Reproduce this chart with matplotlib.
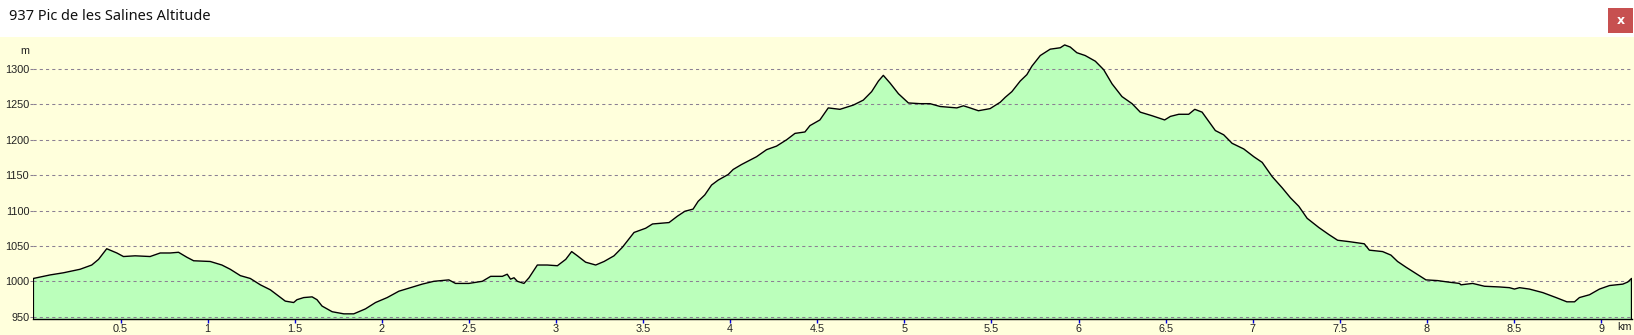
import matplotlib
matplotlib.use("Agg")
import matplotlib.pyplot as plt
from matplotlib.patches import Rectangle

title = "937 Pic de les Salines Altitude"

# distance (km) / altitude (m)
dist_km = [
    0.0, 0.096, 0.172, 0.268, 0.335, 0.374, 0.421, 0.479, 0.517, 0.584,
    0.67, 0.728, 0.785, 0.833, 0.881, 0.92, 1.015, 1.082, 1.13, 1.188,
    1.245, 1.303, 1.36, 1.408, 1.446, 1.494, 1.513, 1.552, 1.6, 1.628,
    1.657, 1.715, 1.782, 1.839, 1.906, 1.964, 2.031, 2.098, 2.165, 2.232,
    2.299, 2.385, 2.423, 2.5, 2.577, 2.625, 2.692, 2.72, 2.739, 2.759,
    2.778, 2.816, 2.845, 2.893, 2.95, 3.008, 3.056, 3.09, 3.123, 3.17,
    3.228, 3.276, 3.333, 3.381, 3.448, 3.515, 3.554, 3.649, 3.697, 3.74,
    3.787, 3.816, 3.854, 3.893, 3.931, 3.989, 4.017, 4.065, 4.151, 4.209,
    4.266, 4.324, 4.372, 4.429, 4.458, 4.515, 4.563, 4.63, 4.707, 4.764,
    4.812, 4.851, 4.879, 4.918, 4.966, 5.023, 5.09, 5.147, 5.205, 5.301,
    5.339, 5.377, 5.425, 5.492, 5.55, 5.579, 5.617, 5.665, 5.703, 5.732,
    5.78, 5.837, 5.895, 5.92, 5.952, 5.99, 6.038, 6.096, 6.144, 6.192,
    6.249, 6.307, 6.354, 6.421, 6.494, 6.527, 6.575, 6.632, 6.667, 6.709,
    6.747, 6.785, 6.833, 6.881, 6.948, 7.006, 7.054, 7.111, 7.169, 7.216,
    7.264, 7.312, 7.379, 7.437, 7.487, 7.554, 7.64, 7.669, 7.745, 7.793,
    7.831, 7.879, 7.937, 7.994, 8.061, 8.119, 8.186, 8.195, 8.262, 8.33,
    8.416, 8.473, 8.502, 8.531, 8.588, 8.665, 8.741, 8.803, 8.847, 8.875,
    8.933, 8.99, 9.048, 9.124, 9.153, 9.174,
]
alt_m = [
    1004, 1009, 1012, 1017, 1023, 1031, 1046, 1040, 1035, 1036,
    1035, 1040, 1040, 1041, 1034, 1029, 1028, 1023, 1017, 1008,
    1004, 995, 988, 979, 972, 970, 974, 977, 978, 974,
    965, 957, 954, 954, 961, 970, 977, 986, 991, 996,
    1000, 1002, 997, 997, 1000, 1007, 1007, 1010, 1003, 1005,
    1000, 997, 1005, 1023, 1023, 1022, 1031, 1042, 1036, 1027,
    1023, 1028, 1036, 1048, 1069, 1075, 1081, 1083, 1092, 1099,
    1102, 1113, 1122, 1136, 1143, 1151, 1158, 1165, 1176, 1186,
    1191, 1200, 1209, 1211, 1220, 1228, 1245, 1243, 1249, 1256,
    1268, 1283, 1291, 1280, 1265, 1252, 1251, 1251, 1247, 1245,
    1248, 1245, 1241, 1244, 1253, 1260, 1268, 1283, 1292, 1304,
    1319, 1328, 1330, 1334, 1331, 1323, 1319, 1311, 1299, 1279,
    1261, 1251, 1239, 1234, 1228, 1233, 1236, 1236, 1243, 1239,
    1226, 1213, 1207, 1195, 1187, 1176, 1168, 1148, 1132, 1118,
    1106, 1089, 1076, 1066, 1058, 1056, 1053, 1044, 1042, 1037,
    1028, 1020, 1011, 1002, 1001, 999, 997, 995, 997, 993,
    992, 991, 989, 991, 989, 984, 977, 971, 971, 977,
    981, 989, 994, 996, 999, 1004,
]

y_ticks = [950, 1000, 1050, 1100, 1150, 1200, 1250, 1300]
x_ticks = [0.5, 1, 1.5, 2, 2.5, 3, 3.5, 4, 4.5, 5, 5.5, 6, 6.5, 7, 7.5, 8, 8.5, 9]
x_tick_labels = ["0.5", "1", "1.5", "2", "2.5", "3", "3.5", "4", "4.5",
                 "5", "5.5", "6", "6.5", "7", "7.5", "8", "8.5", "9"]

W, H = 1634, 335
bg = "#FFFFDC"
fill = "#BBFFBB"
ymin, ymax = 946.3, 1345.2
xmax = 9.175

fig = plt.figure(figsize=(W / 100, H / 100), dpi=100, facecolor="white")

# yellow panel under the title bar
fig.patches.append(Rectangle((0, 0), 1, (H - 37) / H, transform=fig.transFigure,
                             facecolor=bg, edgecolor="none", zorder=-10))

# title bar
fig.text(9 / W, 1 - 17 / H, title, fontsize=10.5, family="Noto Sans",
         va="center", ha="left", color="#111111")
fig.patches.append(Rectangle((1608 / W, 1 - 33 / H), 25 / W, 25 / H,
                             transform=fig.transFigure, facecolor="#C75050",
                             edgecolor="none", zorder=1))
fig.text(1620.5 / W, 1 - 20.5 / H, "x", fontsize=9, fontweight="bold",
         color="white", ha="center", va="center", family="DejaVu Sans")

left, right = 33.4, 33.4 + xmax * 174.2
bottom, top = 319.3, 37
ax = fig.add_axes([left / W, 1 - bottom / H, (right - left) / W, (bottom - top) / H])
ax.set_zorder(5)
ax.set_facecolor(bg)
ax.set_xlim(0, xmax)
ax.set_ylim(ymin, ymax)

for s in ["top", "right", "left"]:
    ax.spines[s].set_visible(False)
ax.spines["bottom"].set_color("black")
ax.spines["bottom"].set_linewidth(1.0)

ax.fill_between(dist_km, alt_m, ymin, color=fill, linewidth=0, zorder=1)
for y in y_ticks:
    ax.axhline(y, color="#8B8093", linewidth=0.75, linestyle=(0, (3, 3)), zorder=2)
    ax.plot([-0.018, 0], [y, y], color="#8B8093", linewidth=0.75,
            linestyle=(0, (3, 3)), clip_on=False, zorder=2)
ax.plot([dist_km[0]] + dist_km + [dist_km[-1]], [ymin] + alt_m + [ymin],
        color="black", linewidth=1.0, zorder=3)

ax.set_yticks(y_ticks)
ax.set_yticklabels([str(v) for v in y_ticks])
ax.tick_params(axis="y", length=0, pad=3, labelsize=7.8, labelcolor="#222222")
ax.set_xticks(x_ticks)
ax.set_xticklabels(x_tick_labels)
ax.tick_params(axis="x", length=3, width=1, color="#0000E0", direction="out",
               pad=0.5, labelsize=7.8, labelcolor="#222222")
for lbl in ax.get_xticklabels() + ax.get_yticklabels():
    lbl.set_family("Liberation Sans")

fig.text(25 / W, 1 - 51 / H, "m", fontsize=7.8, family="Liberation Sans",
         ha="center", va="center", color="#222222")
fig.text(1625 / W, 1 - 327 / H, "km", fontsize=7.8, family="Liberation Sans",
         ha="center", va="center", color="#222222")

fig.savefig("out.png", dpi=100, facecolor=fig.get_facecolor())
